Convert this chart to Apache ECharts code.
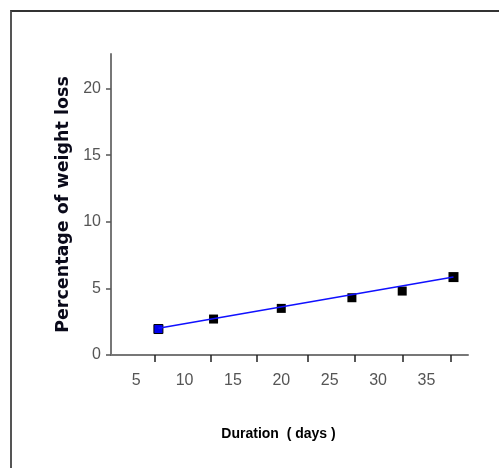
<!DOCTYPE html>
<html>
<head>
<meta charset="utf-8">
<script src="https://cdn.jsdelivr.net/npm/echarts@6/dist/echarts.min.js"></script>
<style>
html,body{margin:0;padding:0;background:#fff;}
#frame{position:absolute;left:10px;top:10px;width:489px;height:458px;border-top:2px solid #333;border-left:2px solid #555;}
#chart{position:absolute;left:0;top:0;width:499px;height:468px;}
</style>
</head>
<body>
<div id="frame"></div>
<div id="chart"></div>
<script>
// Data
const durationDays = [7.3, 13.0, 20.0, 27.3, 32.5, 37.8];
const weightLossPct = [1.95, 2.7, 3.5, 4.3, 4.8, 5.85];
const fitStart = [7.3, 2.0];
const fitEnd = [37.8, 5.85];
const xTickLabels = [5, 10, 15, 20, 25, 30, 35];
const xTickMarks = [6.9, 12.7, 17.5, 22.7, 27.6, 32.6, 37.5];

const chart = echarts.init(document.getElementById('chart'), null, {renderer: 'canvas'});
const labelFont = {color: '#555', fontFamily: 'Liberation Sans Narrow, Liberation Sans, Arial', fontSize: 16};

chart.setOption({
  animation: false,
  backgroundColor: 'transparent',
  grid: {left: 111, right: 31, top: 54, bottom: 113},
  xAxis: {
    type: 'value', min: 2.4, max: 39.3,
    name: 'Duration  ( days )', nameLocation: 'middle', nameGap: 72,
    nameTextStyle: {color: '#000', fontWeight: 'bold', fontSize: 14, fontFamily: 'Liberation Sans, Arial', padding: [0, 22, 0, 0]},
    axisLine: {show: true, onZero: false, lineStyle: {color: '#777', width: 2}},
    axisTick: {show: true, length: 7, lineStyle: {color: '#222', width: 1.5}, customValues: xTickMarks},
    axisLabel: Object.assign({margin: 18, customValues: xTickLabels}, labelFont),
    splitLine: {show: false}
  },
  yAxis: {
    type: 'value', min: 0, max: 22.6, interval: 5,
    name: 'Percentage of weight loss', nameLocation: 'middle', nameGap: 39,
    nameTextStyle: {color: '#0a0a1a', fontWeight: 'bold', fontSize: 17.5, fontFamily: 'DejaVu Sans, Verdana'},
    axisLine: {show: true, lineStyle: {color: '#777', width: 2}},
    axisTick: {show: true, length: 5, lineStyle: {color: '#555', width: 1.5}},
    axisLabel: Object.assign({margin: 10, showMaxLabel: false}, labelFont),
    splitLine: {show: false}
  },
  series: [
    {
      type: 'scatter', symbol: 'rect', symbolSize: 9, z: 2,
      itemStyle: {color: '#000', opacity: 1},
      data: durationDays.map((d, i) => ({
        value: [d, weightLossPct[i]],
        itemStyle: i === 0 ? {color: '#0000ee', borderColor: '#000', borderWidth: 1} : undefined,
        symbolSize: i === durationDays.length - 1 ? 10 : 9
      }))
    },
    {
      type: 'line', z: 3, showSymbol: false, symbol: 'none',
      lineStyle: {color: '#1010ff', width: 1.5},
      data: [fitStart, fitEnd]
    }
  ]
});
</script>
</body>
</html>
